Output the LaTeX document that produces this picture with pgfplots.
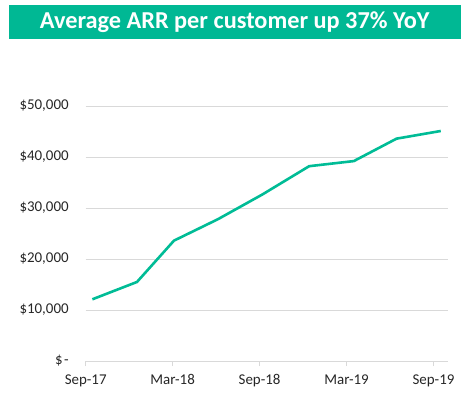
\documentclass[border=0pt]{standalone}
\usepackage{pgfplots}
\pgfplotsset{compat=1.18}
\usepackage{fontspec}
\setmainfont{Carlito}
\definecolor{teal1}{RGB}{0,184,148}
\definecolor{linec}{RGB}{0,188,150}
\definecolor{gridc}{RGB}{217,217,217}
\definecolor{txt}{RGB}{38,38,38}
\begin{document}
\begin{tikzpicture}[x=1bp,y=1bp]
\useasboundingbox (0,0) rectangle (472,398);
\fill[teal1] (9,359) rectangle (461,393);
\node[text=white,font=\bfseries\fontsize{24.4}{28}\selectfont] at (234.7,376) {Average ARR per customer up 37\% YoY};
\begin{axis}[at={(85.7bp,37bp)}, anchor=south west,
  scale only axis, width=362.3bp, height=255bp,
  xmin=0, xmax=25, ymin=0, ymax=50000,
  scaled y ticks=false,
  axis lines*=left,
  x axis line style={draw=gridc, line width=0.8bp},
  y axis line style={draw=none},
  ymajorgrids, grid style={draw=gridc, line width=0.8bp},
  xtick={0,6,12,18,24},
  xticklabels={Sep-17,Mar-18,Sep-18,Mar-19,Sep-19},
  ytick={0,10000,20000,30000,40000,50000},
  yticklabels={{\$\hspace{1.5bp}-\hspace{4.5bp}},{\$10,000},{\$20,000},{\$30,000},{\$40,000},{\$50,000}},
  tick align=outside, major tick length=5bp,
  xtick style={draw=gridc, line width=0.8bp},
  ytick style={draw=none},
  tick label style={text=txt, font=\fontsize{15}{17}\selectfont},
  yticklabel style={xshift=-8.5bp},
  xticklabel style={yshift=-5bp},
]
\addplot[linec, line width=2.6bp, mark=none] coordinates {
(0.46,12100) (3.54,15500) (6.09,23600) (9.12,27800) (12.16,32600)
(15.42,38200) (18.5,39200) (21.45,43600) (24.5,45100)
};
\end{axis}
\end{tikzpicture}
\end{document}
